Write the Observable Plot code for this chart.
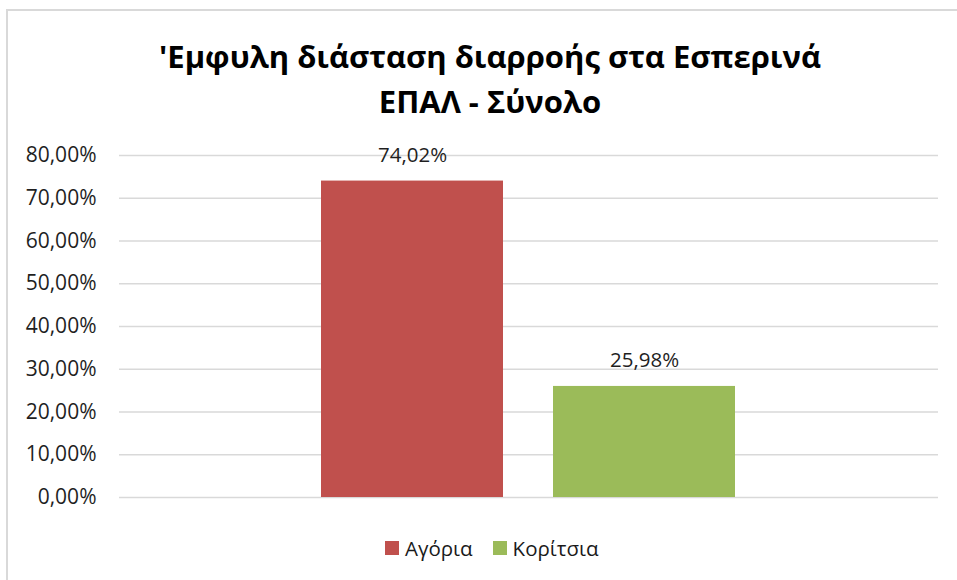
<!DOCTYPE html>
<html><head><meta charset="utf-8">
<script src="https://cdn.jsdelivr.net/npm/d3@7"></script>
<script src="https://cdn.jsdelivr.net/npm/@observablehq/plot@0.6"></script>
<style>
body{margin:0;background:#fff;}
#wrap{position:relative;width:957px;height:580px;overflow:hidden;font-family:"Open Sans",sans-serif;background:#fff;}
#border{position:absolute;left:6px;top:9px;width:970px;height:600px;border-left:2px solid #d9d9d9;border-top:2px solid #d9d9d9;box-sizing:border-box;}
#title{position:absolute;left:0;width:980px;top:34px;text-align:center;font-weight:bold;font-size:31px;line-height:45px;color:#000;}
#chart{position:absolute;left:0;top:130px;}
#legend{position:absolute;left:385px;top:534px;display:flex;align-items:center;font-size:20.5px;color:#1a1a1a;}
#legend .sw{width:14px;height:14px;display:inline-block;margin-right:6px;}
#legend .it{display:flex;align-items:center;margin-right:20px;}
</style></head>
<body>
<div id="wrap">
<div id="border"></div>
<div id="title">'Εμφυλη διάσταση διαρροής στα Εσπερινά<br>ΕΠΑΛ - Σύνολο</div>
<div id="chart"></div>
<div id="legend"></div>
</div>
<script>
const categories = ["Αγόρια", "Κορίτσια"];
const values = [0.7402, 0.2598];
const colors = ["#C0504D", "#9BBB59"];
const yTicks = [0, 0.1, 0.2, 0.3, 0.4, 0.5, 0.6, 0.7, 0.8];

const data = categories.map((c, i) => ({cat: c, value: values[i]}));
const fmt = d => (d * 100).toFixed(2).replace(".", ",") + "%";

const chart = Plot.plot({
  width: 957,
  height: 390,
  marginLeft: 119,
  marginRight: 19,
  marginTop: 25,
  marginBottom: 23,
  style: {fontFamily: "'Open Sans', sans-serif", background: "transparent"},
  x: {domain: categories, paddingInner: 0.215, paddingOuter: 0.867, axis: null},
  y: {domain: [0, 0.8], label: null, axis: null},
  color: {domain: categories, range: colors},
  marks: [
    Plot.gridY(yTicks, {stroke: "#d9d9d9", strokeOpacity: 1, strokeWidth: 1.6}),
    Plot.axisY(yTicks, {tickSize: 0, tickPadding: 23, tickFormat: fmt, fontSize: 21, fill: "#1f1f1f", label: null}),
    Plot.barY(data, {x: "cat", y: "value", fill: "cat"}),
    Plot.text(data, {x: "cat", y: "value", text: d => fmt(d.value), dy: -26, fontSize: 20.5, fill: "#1f1f1f"})
  ]
});
document.getElementById("chart").appendChild(chart);

const legend = document.getElementById("legend");
categories.forEach((c, i) => {
  const it = document.createElement("div");
  it.className = "it";
  const sw = document.createElement("span");
  sw.className = "sw";
  sw.style.background = colors[i];
  it.appendChild(sw);
  it.appendChild(document.createTextNode(c));
  legend.appendChild(it);
});
</script>
</body></html>
